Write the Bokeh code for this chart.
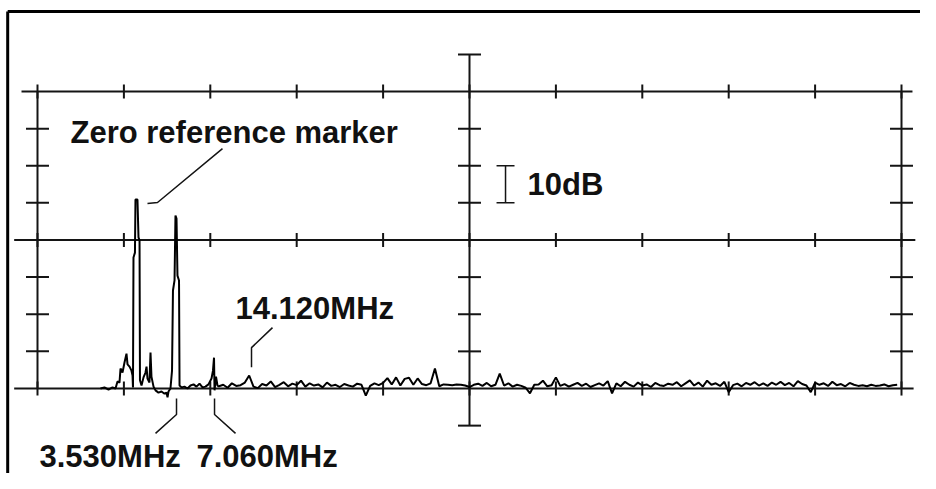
import numpy as np
from bokeh.plotting import figure
from bokeh.embed import file_html
from bokeh.resources import INLINE
from bokeh.core.properties import value
from bokeh.models import Range1d

# ---------------- data (x in graticule divisions, y in dB) ----------------
peak_div = [0.729, 0.775, 0.822, 0.868, 0.903, 0.926, 0.949, 0.961, 0.984, 1.007,
            1.030, 1.042, 1.065, 1.088, 1.100, 1.105, 1.111, 1.128, 1.134, 1.157,
            1.169, 1.181, 1.186, 1.204, 1.227, 1.250, 1.262, 1.273, 1.296, 1.308,
            1.319, 1.343, 1.366, 1.400, 1.435, 1.470, 1.493, 1.505, 1.516, 1.539,
            1.557, 1.568, 1.586, 1.597, 1.609, 1.620, 1.638, 1.644, 1.667, 1.701,
            1.736, 1.771, 1.806, 1.840, 1.875, 1.910, 1.944, 1.979, 2.014, 2.031,
            2.043, 2.049, 2.066, 2.083]
peak_db = [-80.0, -79.7, -80.3, -79.7, -80.0, -78.1, -78.4, -74.6, -75.7, -73.0,
           -70.6, -73.5, -74.1, -75.2, -76.5, -79.7, -44.7, -43.4, -29.1, -29.1,
           -39.3, -40.1, -77.8, -79.2, -77.0, -75.7, -74.1, -77.3, -78.4, -70.3,
           -76.8, -79.5, -80.5, -81.1, -80.8, -81.4, -81.1, -82.4, -80.8, -80.0,
           -75.2, -53.6, -50.9, -33.4, -34.2, -49.6, -50.9, -79.2, -79.7, -79.5,
           -80.0, -79.2, -78.9, -79.5, -78.7, -79.7, -79.5, -78.9, -77.3, -75.2,
           -71.7, -80.5, -76.8, -79.2]

noise_first_div = 2.10
noise_step_div = 0.05
noise_db = [-79.4, -79.0, -79.8, -78.6, -79.3, -79.1, -78.4, -76.5, -79.5, -79.9,
            -78.8, -79.2, -78.1, -79.6, -79.0, -78.3, -79.4, -78.7, -79.1, -77.9,
            -79.5, -78.6, -79.2, -78.9, -79.7, -78.4, -79.3, -79.0, -79.6, -78.8,
            -79.2, -79.5, -78.7, -79.0, -81.9, -79.3, -78.6, -79.1, -78.5, -77.2,
            -78.9, -77.0, -79.2, -77.4, -77.1, -79.0, -77.3, -78.8, -79.1, -78.6,
            -74.6, -79.4, -78.9, -79.0, -79.1, -78.9, -79.0, -79.2, -79.6, -79.0,
            -78.7, -79.3, -78.5, -79.4, -79.0, -76.0, -79.2, -78.6, -79.5, -79.0,
            -79.3, -79.8, -81.3, -79.0, -78.9, -77.9, -79.4, -79.1, -77.0, -79.3,
            -78.8, -79.5, -79.0, -78.5, -79.3, -78.7, -79.6, -79.1, -78.6, -79.2,
            -78.0, -81.3, -78.6, -79.4, -78.2, -79.0, -79.5, -78.4, -79.2, -78.9,
            -79.6, -78.5, -79.1, -79.3, -78.7, -79.0, -78.3, -79.4, -78.6, -77.8,
            -79.2, -78.4, -79.5, -77.9, -79.0, -78.6, -79.3, -78.2, -81.0, -79.1,
            -78.7, -79.4, -78.5, -79.0, -78.3, -79.2, -78.6, -79.3, -78.4, -79.0,
            -78.2, -79.1, -78.5, -79.4, -78.0, -78.8, -79.2, -81.0, -78.4, -79.0,
            -78.6, -79.3, -78.2, -79.1, -78.8, -79.4, -78.5, -79.0, -79.3, -79.1,
            -79.4, -79.0, -79.3, -79.2, -78.9, -79.4, -79.1, -79.0]

# graticule definition
divisions = list(range(0, 11))
major_db = [0, -40, -80]
minor_db = [-10, -20, -30, -50, -60, -70]
center_db = [10, 0, -10, -20, -30, -40, -50, -60, -70, -80, -90]

# annotations
label_texts = ["Zero reference marker", "10dB", "14.120MHz", "3.530MHz", "7.060MHz"]
label_div = [0.382, 5.671, 2.292, 0.023, 1.840]
label_db = [-11.1, -25.1, -58.5, -98.3, -98.3]
pointer_div = [[2.141, 1.389, 1.273], [2.720, 2.477, 2.477],
               [1.609, 1.609, 1.366], [2.049, 2.049, 2.292]]
pointer_db = [[-15.4, -29.9, -30.2], [-63.6, -69.0, -74.3],
              [-82.7, -87.0, -92.1], [-82.7, -87.0, -92.1]]
scale_bar_div = 5.417
scale_bar_db = [-20, -30]

# ---------------- figure ----------------
p = figure(width=920, height=473, output_backend="svg", toolbar_location=None,
           x_range=Range1d(-0.4282, 10.2199), y_range=Range1d(-102.896, 24.512),
           x_axis_location=None, y_axis_location=None,
           min_border=0, min_border_left=0, min_border_right=0,
           min_border_top=0, min_border_bottom=0)
p.xgrid.grid_line_color = None
p.ygrid.grid_line_color = None
p.outline_line_color = None
p.background_fill_color = "white"
p.border_fill_color = "white"

ink = "#141414"
tick_h = 1.9     # dB half length of vertical ticks
bar_w = 0.133    # div half width of crossbars

# outer frame (left and top borders)
p.segment(x0=[-0.345, -0.345], y0=[21.55, 21.55], x1=[-0.345, 10.5], y1=[-110, 21.55],
          line_color="black", line_width=3)

# major horizontal lines
line_x0 = [-0.185, -0.27, -0.27]
line_x1 = [10.127, 10.16, 10.14]
p.segment(x0=line_x0, y0=major_db, x1=line_x1, y1=major_db, line_color=ink, line_width=2)

# ticks on major lines
tx, ty0, ty1 = [], [], []
for d in major_db:
    for dv in divisions:
        tx.append(dv); ty0.append(d - tick_h); ty1.append(d + tick_h)
p.segment(x0=tx, y0=ty0, x1=tx, y1=ty1, line_color=ink, line_width=2)

# side rulers
p.segment(x0=[0, 10], y0=[0, 0], x1=[0, 10], y1=[-80, -80], line_color=ink, line_width=2)
sx0, sx1, sy = [], [], []
for dv in [0, 10]:
    for d in minor_db:
        sx0.append(dv - bar_w); sx1.append(dv + bar_w); sy.append(d)
p.segment(x0=sx0, y0=sy, x1=sx1, y1=sy, line_color=ink, line_width=2)

# center ruler
p.segment(x0=[5], y0=[max(center_db)], x1=[5], y1=[min(center_db)], line_color=ink, line_width=2)
cb = [d for d in center_db if d not in major_db]
p.segment(x0=[5 - bar_w] * len(cb), y0=cb, x1=[5 + bar_w] * len(cb), y1=cb,
          line_color=ink, line_width=2)

# trace
noise_div = list(np.round(noise_first_div + noise_step_div * np.arange(len(noise_db)), 3))
trace_x = peak_div + noise_div
trace_y = peak_db + noise_db
p.line(trace_x, trace_y, line_color="black", line_width=2)

# pointers
p.multi_line(xs=pointer_div, ys=pointer_db, line_color=ink, line_width=1.5)

# 10 dB scale bar
p.segment(x0=[scale_bar_div, scale_bar_div - 0.104, scale_bar_div - 0.104],
          y0=[scale_bar_db[0], scale_bar_db[0], scale_bar_db[1]],
          x1=[scale_bar_div, scale_bar_div + 0.104, scale_bar_div + 0.104],
          y1=[scale_bar_db[1], scale_bar_db[0], scale_bar_db[1]],
          line_color=ink, line_width=1.5)

# labels
p.text(x=label_div, y=label_db, text=label_texts, text_font=value("Liberation Sans"),
       text_font_style="bold", text_font_size="31px", text_color="#111111",
       text_align="left", text_baseline="alphabetic")

open("out.html", "w").write(file_html(p, INLINE))
